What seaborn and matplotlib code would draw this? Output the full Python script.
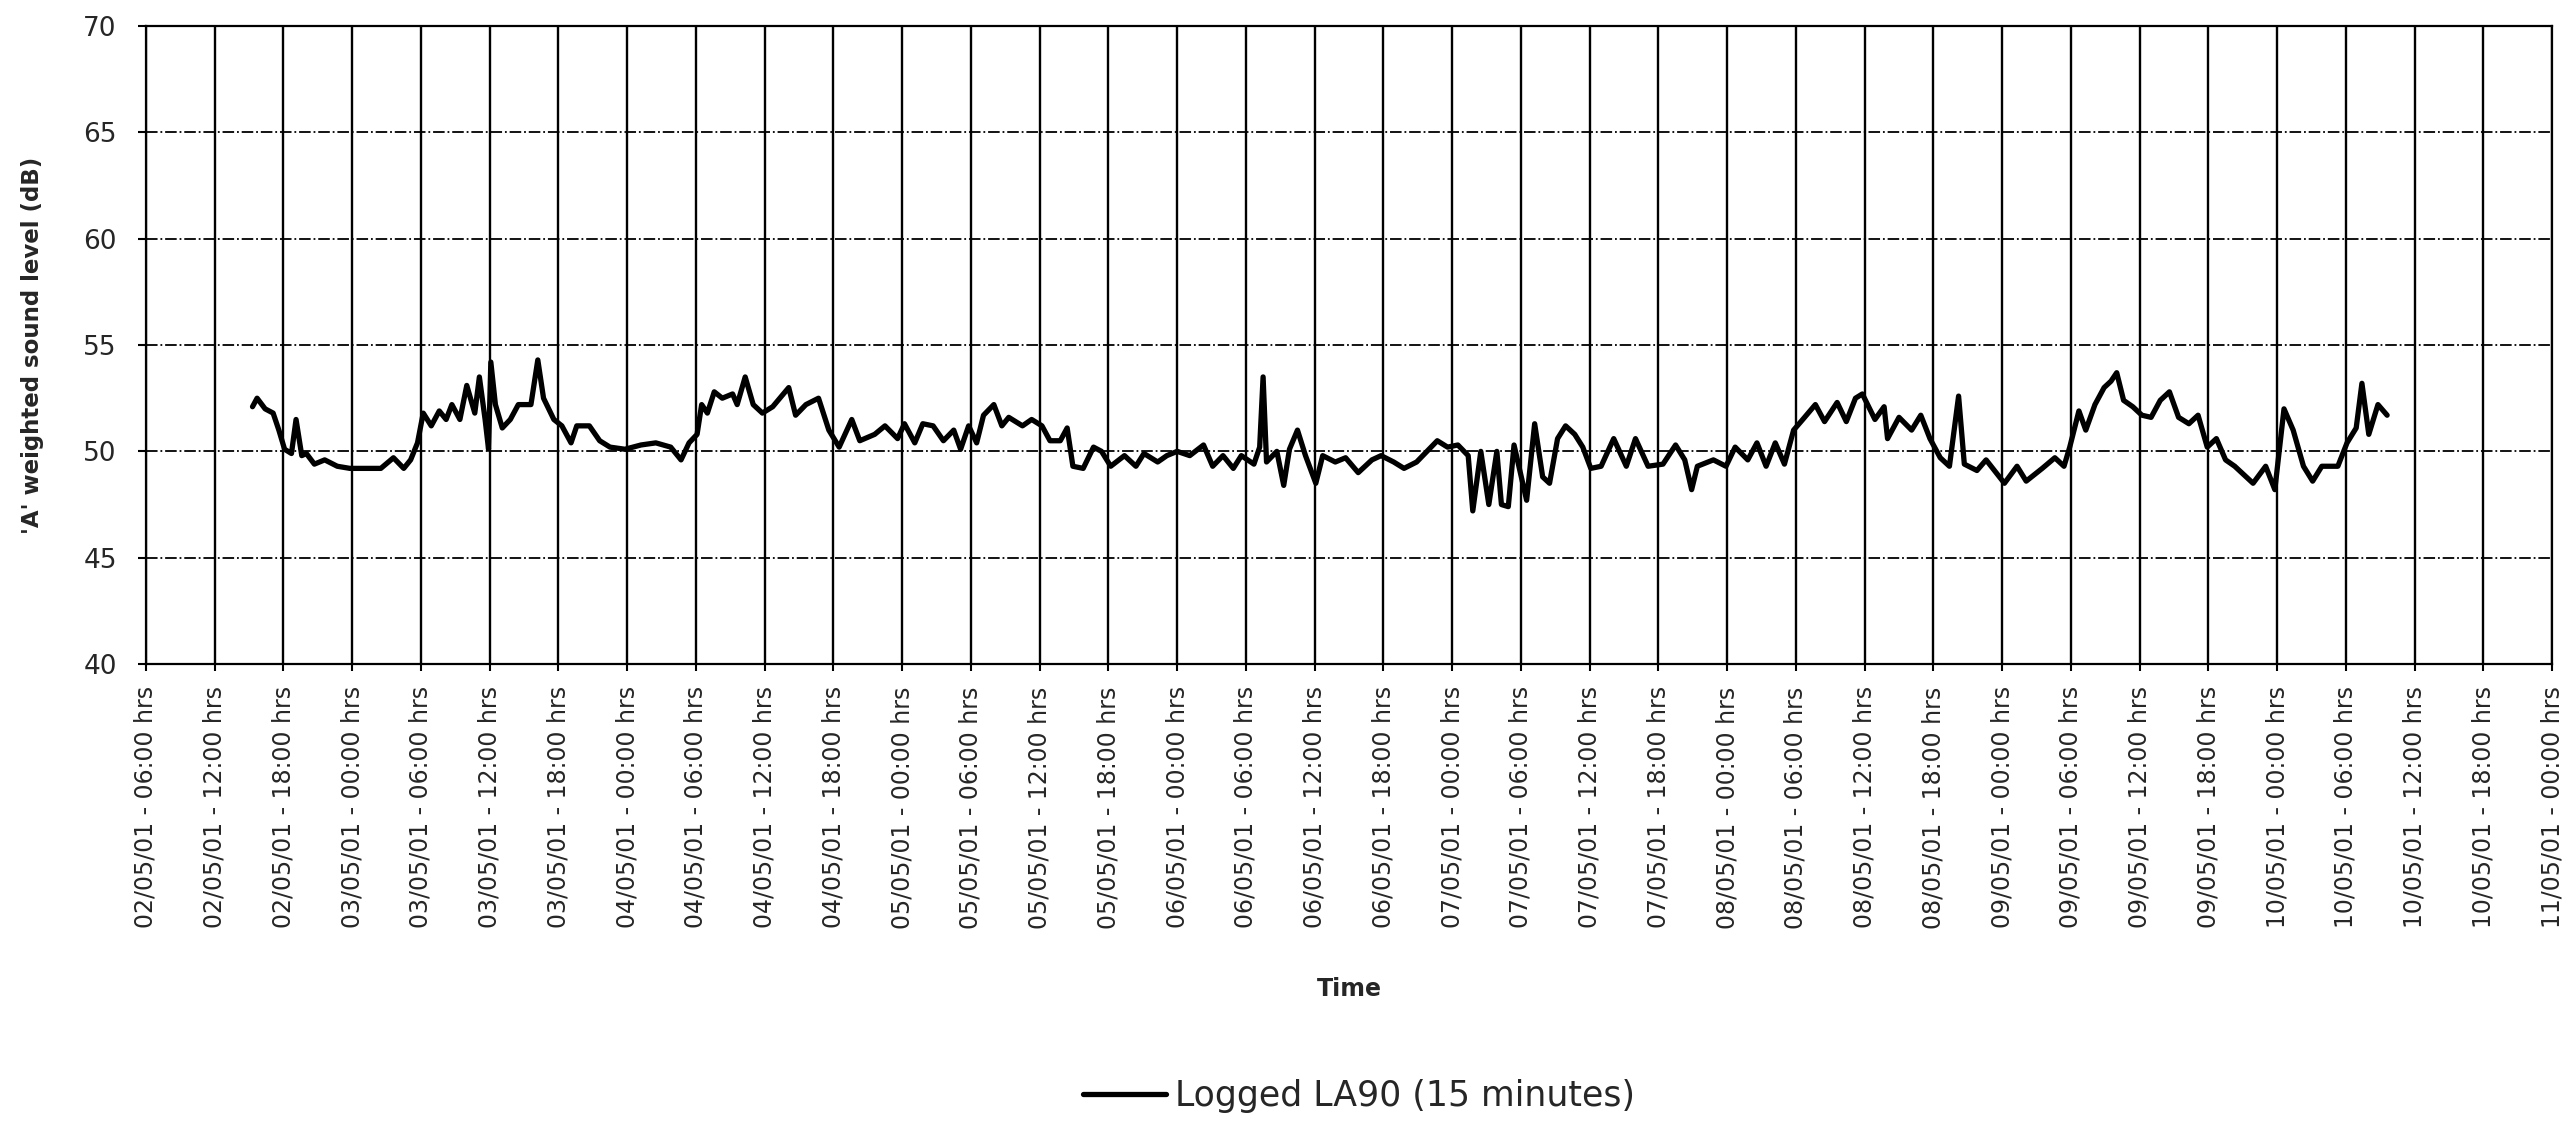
import matplotlib
matplotlib.use('Agg')
from matplotlib import pyplot as plt
from matplotlib import font_manager
import matplotlib.dates as mdates
import pandas as pd
import seaborn as sns

#### DATA #####################################################################
# hours elapsed since 02/05/01 06:00 and LA90 level
start = '2001-05-02 06:00'
hrs = [9.3, 9.7, 10.4, 11.1, 11.6, 12.1, 12.7, 13.1, 13.6, 14.0, 14.7, 15.6,
       16.7, 17.8, 19.1, 20.5, 21.6, 22.5, 23.1, 23.7, 24.2, 24.9, 25.6, 26.2,
       26.7, 27.4, 28.0, 28.7, 29.1, 29.6, 29.9, 30.1, 30.5, 31.1, 31.8, 32.5,
       33.6, 34.2, 34.7, 35.6, 36.3, 37.1, 37.6, 38.7, 39.6, 40.5, 41.8, 43.2,
       44.5, 45.8, 46.7, 47.4, 48.1, 48.5, 49.0, 49.6, 50.3, 51.2, 51.6, 52.3,
       53.0, 53.8, 54.7, 56.1, 56.7, 57.6, 58.7, 59.6, 60.5, 61.6, 62.3, 63.6,
       64.5, 65.6, 66.2, 67.1, 67.8, 68.7, 69.6, 70.5, 71.1, 71.8, 72.5, 73.1,
       74.0, 74.7, 75.3, 76.5, 77.3, 78.2, 78.9, 79.8, 80.4, 80.9, 81.8, 82.7,
       83.4, 84.2, 85.4, 86.4, 87.1, 88.3, 89.1, 90.0, 91.1, 92.3, 93.1, 94.0,
       94.9, 95.6, 96.7, 97.2, 97.5, 97.8, 98.7, 99.3, 99.8, 100.5, 101.2,
       102.1, 102.7, 103.8, 104.7, 105.8, 107.0, 107.8, 108.9, 109.8, 110.9,
       111.8, 112.7, 113.6, 114.5, 115.4, 115.8, 116.5, 117.2, 117.9, 118.3,
       118.9, 119.4, 120.5, 121.2, 121.9, 122.5, 123.2, 123.9, 124.7, 125.4,
       126.1, 127.0, 128.1, 129.2, 130.0, 131.1, 132.4, 133.5, 134.3, 134.9,
       135.4, 136.8, 137.9, 138.7, 139.8, 140.6, 141.4, 142.2, 143.0, 143.8,
       144.6, 145.7, 146.5, 147.6, 148.4, 149.2, 149.8, 150.9, 151.7, 152.0,
       153.0, 154.1, 154.9, 155.7, 156.6, 157.4, 158.2, 158.7, 159.8, 160.6,
       162.2, 163.3, 164.1, 165.5, 166.6, 167.4, 167.9, 168.7, 169.3, 170.1,
       170.9, 171.5, 172.0, 172.6, 173.4, 174.2, 175.0, 175.8, 176.6, 177.4,
       178.3, 179.1, 179.9, 180.7, 181.5, 182.3, 183.9, 185.0, 185.8, 186.6,
       187.4, 188.3, 189.1, 189.9, 191.3, 192.1, 192.9, 193.4, 194.0, 194.8,
       195.6]
la90 = [52.1, 52.5, 52.0, 51.8, 51.0, 50.1, 49.9, 51.5, 49.8, 49.9, 49.4, 49.6,
        49.3, 49.2, 49.2, 49.2, 49.7, 49.2, 49.6, 50.4, 51.8, 51.2, 51.9, 51.5,
        52.2, 51.5, 53.1, 51.8, 53.5, 51.5, 50.1, 54.2, 52.2, 51.1, 51.5, 52.2,
        52.2, 54.3, 52.5, 51.5, 51.2, 50.4, 51.2, 51.2, 50.5, 50.2, 50.1, 50.3,
        50.4, 50.2, 49.6, 50.4, 50.8, 52.2, 51.8, 52.8, 52.5, 52.7, 52.2, 53.5,
        52.2, 51.8, 52.1, 53.0, 51.7, 52.2, 52.5, 51.0, 50.2, 51.5, 50.5, 50.8,
        51.2, 50.6, 51.3, 50.4, 51.3, 51.2, 50.5, 51.0, 50.1, 51.2, 50.4, 51.7,
        52.2, 51.2, 51.6, 51.2, 51.5, 51.2, 50.5, 50.5, 51.1, 49.3, 49.2, 50.2,
        50.0, 49.3, 49.8, 49.3, 49.9, 49.5, 49.8, 50.0, 49.8, 50.3, 49.3, 49.8,
        49.2, 49.8, 49.4, 50.2, 53.5, 49.5, 50.0, 48.4, 50.1, 51.0, 49.8,
        48.5, 49.8, 49.5, 49.7, 49.0, 49.6, 49.8, 49.5, 49.2, 49.5,
        50.0, 50.5, 50.2, 50.3, 49.8, 47.2, 50.0, 47.5, 50.0, 47.5,
        47.4, 50.3, 47.7, 51.3, 48.8, 48.5, 50.6, 51.2, 50.8, 50.2,
        49.2, 49.3, 50.6, 49.3, 50.6, 49.3, 49.4, 50.3, 49.6, 48.2,
        49.3, 49.6, 49.3, 50.2, 49.6, 50.4, 49.3, 50.4, 49.4, 51.0,
        51.5, 52.2, 51.4, 52.3, 51.4, 52.5, 52.7, 51.5, 52.1, 50.6,
        51.6, 51.0, 51.7, 50.6, 49.7, 49.3, 52.6, 49.4, 49.1, 49.6,
        48.5, 49.3, 48.6, 49.2, 49.7, 49.3, 50.2, 51.9, 51.0, 52.2,
        53.0, 53.3, 53.7, 52.4, 52.1, 51.7, 51.6, 52.4, 52.8, 51.6,
        51.3, 51.7, 50.2, 50.6, 49.6, 49.3, 48.5, 49.3, 48.2, 52.0,
        51.0, 49.3, 48.6, 49.3, 49.3, 50.4, 51.1, 53.2, 50.8, 52.2,
        51.7]
series_name = 'Logged LA90 (15 minutes)'
x_start = '2001-05-02 06:00'
x_end = '2001-05-11 00:00'
y_ticks = [40, 45, 50, 55, 60, 65, 70]

df = pd.DataFrame({'time': pd.Timestamp(start) + pd.to_timedelta(hrs, unit='h'),
                   'level': la90})

#### FONTS ####################################################################
sns.set_theme(style='white')
plt.rcParams['font.family'] = ['DejaVu Sans']
installed = {f.name for f in font_manager.fontManager.ttflist}
if 'Liberation Sans Narrow' in installed:
    tick_font, tick_size = 'Liberation Sans Narrow', 23
else:
    tick_font, tick_size = 'DejaVu Sans', 17

#### PLOT #####################################################################
fig = plt.figure(figsize=(25.74, 11.23), dpi=100)
ax = fig.add_axes([0.0567, 0.4087, 0.9348, 0.5681])

sns.lineplot(data=df, x='time', y='level', color='black', linewidth=3.8,
             ax=ax, label=series_name, zorder=3)

ax.set_xlim(pd.Timestamp(x_start), pd.Timestamp(x_end))
ax.set_ylim(40, 70)
ax.set_yticks(y_ticks)
ax.xaxis.set_major_locator(mdates.HourLocator(byhour=[0, 6, 12, 18]))
ax.xaxis.set_major_formatter(mdates.DateFormatter('%d/%m/%y - %H:%M hrs'))

ax.grid(axis='x', color='black', linestyle='-', linewidth=1.7)
ax.grid(axis='y', color='black', linestyle='-.', linewidth=1.3)
ax.set_axisbelow(True)
for s in ax.spines.values():
    s.set_color('black')
    s.set_linewidth(1.6)

ax.tick_params(axis='x', which='major', direction='out', length=5, width=1.5,
               color='black', pad=11, bottom=True, labelrotation=90)
ax.tick_params(axis='y', which='major', direction='out', length=6, width=1.5,
               color='black', pad=15, left=True, labelsize=19)
for lab in ax.get_xticklabels():
    lab.set_fontfamily(tick_font)
    lab.set_fontsize(tick_size)

ax.set_xlabel('Time', fontsize=17, fontweight='bold')
ax.xaxis.set_label_coords(0.5, -0.49)
ax.set_ylabel("'A' weighted sound level (dB)", fontsize=16.5, fontweight='bold')
ax.yaxis.set_label_coords(-0.0425, 0.5)

ax.get_legend().remove()
handles, labels = ax.get_legend_handles_labels()
fig.legend(handles, labels, loc='center', bbox_to_anchor=(0.528, 0.024),
           frameon=False, fontsize=25, handlelength=2.4, handletextpad=0.25)

fig.savefig('out.png', dpi=100)
